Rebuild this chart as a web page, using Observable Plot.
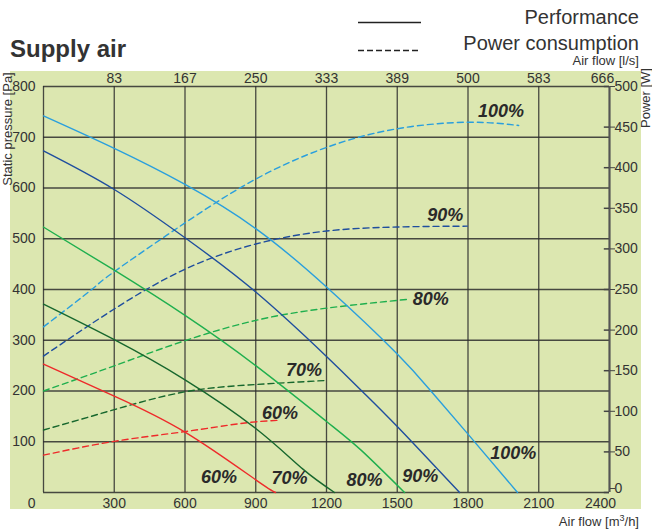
<!DOCTYPE html>
<html>
<head>
<meta charset="utf-8">
<script src="https://cdn.jsdelivr.net/npm/d3@7"></script>
<script src="https://cdn.jsdelivr.net/npm/@observablehq/plot@0.6"></script>
<style>
  html, body { margin: 0; padding: 0; background: #ffffff; }
  #wrap { position: relative; width: 652px; height: 532px; overflow: hidden; font-family: "Liberation Sans", Arial, sans-serif; }
  #bg { position: absolute; left: 10px; top: 71px; width: 631px; height: 438px; background: #dce7b0; }
  #chart { position: absolute; left: 0; top: 0; }
  #overlay { position: absolute; left: 0; top: 0; pointer-events: none; }
</style>
</head>
<body>
<div id="wrap">
  <div id="bg"></div>
  <div id="chart"></div>
  <svg id="overlay" width="652" height="532" font-family="Liberation Sans, Arial, sans-serif" fill="#333">
    <text x="10" y="57" font-size="24" font-weight="bold">Supply air</text>
    <line x1="358" x2="421" y1="22.5" y2="22.5" stroke="#222" stroke-width="1.5"></line>
    <line x1="358" x2="421" y1="50.5" y2="50.5" stroke="#222" stroke-width="1.5" stroke-dasharray="6,3"></line>
    <text x="639" y="24" font-size="20" text-anchor="end">Performance</text>
    <text x="639" y="50" font-size="20" text-anchor="end">Power consumption</text>
    <text x="639" y="65" font-size="13" text-anchor="end">Air flow [l/s]</text>
    <text x="639" y="526" font-size="13" text-anchor="end">Air flow [m<tspan font-size="9" dy="-5">3</tspan><tspan dy="5">/h]</tspan></text>
    <text transform="translate(12,129) rotate(-90)" font-size="13" text-anchor="middle">Static pressure [Pa]</text>
    <text transform="translate(650,98) rotate(-90)" font-size="13" text-anchor="middle">Power [W]</text>
  </svg>
</div>
<script>
// ---- data ----
const flowTicks = [300, 600, 900, 1200, 1500, 1800, 2100, 2400];
const lsLabels = ["83", "167", "250", "333", "389", "500", "583", "666"];
const pressureTicks = [0, 100, 200, 300, 400, 500, 600, 700, 800];
const powerTicks = [0, 50, 100, 150, 200, 250, 300, 350, 400, 450, 500];

const levels = ["100%", "90%", "80%", "70%", "60%"];
const levelColors = ["#2a9fdd", "#1f4e9e", "#1faf4e", "#17672d", "#ee2a2a"];

// performance curves: [air flow m3/h, static pressure Pa]
const perf100 = [[0,742],[300,678],[600,607],[900,520],[1200,405],[1500,273],[1650,196],[1800,115],[2010,0]];
const perf90  = [[0,673],[300,597],[600,502],[900,395],[1200,268],[1350,200],[1500,130],[1764,0]];
const perf80  = [[0,523],[300,438],[600,349],[900,250],[1200,140],[1350,82],[1531,0]];
const perf70  = [[0,371],[300,301],[600,222],[900,126],[1100,46],[1234,0]];
const perf60  = [[0,253],[300,190],[600,119],[900,25],[984,0]];

// power consumption curves: [air flow m3/h, power W]
const pow100 = [[0,204],[200,249],[300,272],[600,332],[900,386],[1200,425],[1500,448],[1800,456],[2015,452]];
const pow90  = [[0,168],[300,226],[600,275],[900,306],[1200,322],[1500,327],[1797,328]];
const pow80  = [[0,125],[300,156],[600,187],[900,212],[1200,227],[1548,238]];
const pow70  = [[0,77],[300,102],[600,124],[900,133],[1200,138]];
const pow60  = [[0,46],[300,63],[600,75],[836,85],[1000,89]];

// curve labels: [air flow, pressure-scale position, text]
const powerLabels = [[1940,752,"100%"],[1704,546,"90%"],[1642,381,"80%"],[1105,240,"70%"],[1003,156,"60%"]];
const perfLabels  = [[744,30,"60%"],[1043,29,"70%"],[1361,24,"80%"],[1598,33,"90%"],[1992,77,"100%"]];

// ---- build tables ----
const wattToPa = 800 / 500;
const perfSets = [perf100, perf90, perf80, perf70, perf60];
const powSets = [pow100, pow90, pow80, pow70, pow60];
const perfRows = perfSets.flatMap((s, i) => s.map(([f, p]) => ({level: levels[i], flow: f, value: p})));
const powRows = powSets.flatMap((s, i) => s.map(([f, w]) => ({level: levels[i], flow: f, value: w * wattToPa})));
const labelRows = [...powerLabels, ...perfLabels].map(([f, p, t]) => ({flow: f, value: p, text: t}));

const gridStyle = {stroke: "#2d2d2d", strokeOpacity: 0.85, strokeWidth: 1.3};
const fmt = d => String(d);

const chart = Plot.plot({
  width: 652,
  height: 532,
  marginLeft: 43,
  marginRight: 43,
  marginTop: 86,
  marginBottom: 40,
  style: {background: "transparent", fontFamily: "Liberation Sans, Arial, sans-serif", fontSize: "14px", color: "#333"},
  x: {domain: [0, 2400], label: null},
  y: {domain: [0, 800], label: null},
  color: {domain: levels, range: levelColors},
  marks: [
    Plot.ruleX([0, ...flowTicks], gridStyle),
    Plot.ruleY(pressureTicks, gridStyle),
    Plot.ruleX([2400], {stroke: "#555", strokeWidth: 2}),
    Plot.ruleY(powerTicks.map(w => w * wattToPa), {x1: 2400 - 22, x2: 2400, stroke: "#444", strokeWidth: 1.5}),
    Plot.line(powRows, {x: "flow", y: "value", z: "level", stroke: "level", strokeWidth: 1.4, strokeDasharray: "6,4", curve: "natural"}),
    Plot.line(perfRows, {x: "flow", y: "value", z: "level", stroke: "level", strokeWidth: 1.4, curve: "natural"}),
    Plot.text(labelRows, {x: "flow", y: "value", text: "text", fontSize: 18, fontWeight: "bold", fontStyle: "italic", fill: "#2a2a2a"}),
    Plot.axisX(flowTicks.slice(0, -1), {anchor: "bottom", tickSize: 0, tickPadding: 6, label: null, tickFormat: fmt}),
    Plot.axisX([2400], {anchor: "bottom", tickSize: 0, tickPadding: 6, dx: -9, label: null, tickFormat: fmt}),
    Plot.axisX(flowTicks.slice(0, -1), {anchor: "top", tickSize: 0, tickPadding: 4, label: null, tickFormat: d => lsLabels[flowTicks.indexOf(d)]}),
    Plot.axisX([2400], {anchor: "top", tickSize: 0, tickPadding: 4, dx: -7, label: null, tickFormat: d => lsLabels[flowTicks.indexOf(d)]}),
    Plot.axisY(pressureTicks.slice(1), {anchor: "left", tickSize: 0, tickPadding: 8, label: null, tickFormat: fmt}),
    Plot.axisY([0], {anchor: "left", tickSize: 0, tickPadding: 8, dy: 11, label: null, tickFormat: fmt}),
    Plot.axisY(powerTicks.slice(1).map(w => w * wattToPa), {anchor: "right", tickSize: 5, tickPadding: 0, label: null, stroke: "#444", tickFormat: d => String(Math.round(d / wattToPa))}),
    Plot.axisY([0], {anchor: "right", tickSize: 5, tickPadding: 0, dy: -4, label: null, stroke: "#444", tickFormat: d => String(Math.round(d / wattToPa))})
  ]
});
document.getElementById("chart").appendChild(chart);
</script>
</body>
</html>
